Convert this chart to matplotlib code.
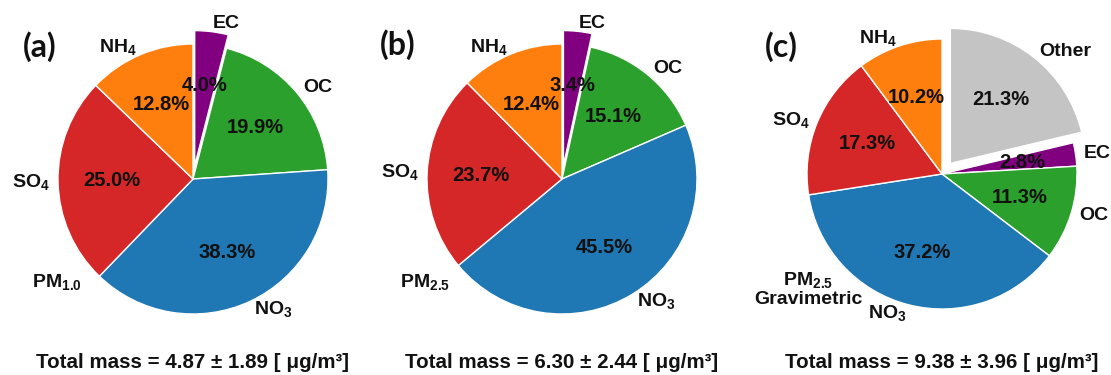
import matplotlib
matplotlib.use("Agg")
import matplotlib.pyplot as plt

plt.rcParams['font.family'] = ['Liberation Sans', 'DejaVu Sans']
plt.rcParams['mathtext.fontset'] = 'custom'
plt.rcParams['mathtext.rm'] = 'Liberation Sans:bold'
plt.rcParams['mathtext.it'] = 'Liberation Sans:bold'
plt.rcParams['mathtext.bf'] = 'Liberation Sans:bold'
plt.rcParams['mathtext.default'] = 'rm'

# Species shares (%) for each size fraction, listed clockwise from 12 o'clock
labels_a = ['EC', 'OC', 'NO$_3$', 'SO$_4$', 'NH$_4$']
values_a = [4.0, 19.9, 38.3, 25.0, 12.8]

labels_b = ['EC', 'OC', 'NO$_3$', 'SO$_4$', 'NH$_4$']
values_b = [3.4, 15.1, 45.5, 23.7, 12.4]

labels_c = ['Other', 'EC', 'OC', 'NO$_3$', 'SO$_4$', 'NH$_4$']
values_c = [21.3, 2.8, 11.3, 37.2, 17.3, 10.2]

colors_ab = ['#800080', '#2ca02c', '#1f77b4', '#d62728', '#ff7f0e']
colors_c = ['#c4c4c4', '#800080', '#2ca02c', '#1f77b4', '#d62728', '#ff7f0e']

# pulled-out wedge, as a fraction of the radius
explode_a = [0.1, 0, 0, 0, 0]
explode_b = [0.1, 0, 0, 0, 0]
explode_c = [0.1, 0, 0, 0, 0, 0]

panel_tags = ['(a)', '(b)', '(c)']
fraction_names = ['PM$_{1.0}$', 'PM$_{2.5}$', 'PM$_{2.5}$\nGravimetric']
total_mass = [(4.87, 1.89), (6.30, 2.44), (9.38, 3.96)]

W, H = 1111, 375
fig = plt.figure(figsize=(W / 100, H / 100), dpi=100)
ax = fig.add_axes([0, 0, 1, 1])

# layout in pixel units (y measured from top)
centers = [(193, 179), (562, 179), (942, 174)]
radius = 135
tag_pos = [(40, 47), (398, 45), (781, 47)]
name_pos = [(57, 282), (425, 282), (808, 289)]

panels = [(labels_a, values_a, colors_ab, explode_a),
          (labels_b, values_b, colors_ab, explode_b),
          (labels_c, values_c, colors_c, explode_c)]

for i, (labs, vals, cols, expl) in enumerate(panels):
    cx, cy = centers[i]
    it = iter(vals)
    wedges, texts, autotexts = ax.pie(
        vals, labels=labs, colors=cols,
        explode=[e * radius for e in expl],
        startangle=90, counterclock=False,
        center=(cx, H - cy), radius=radius,
        autopct=lambda p, it=it: f'{next(it):.1f}%',
        pctdistance=0.6, labeldistance=1.06,
        wedgeprops=dict(edgecolor='white', linewidth=1.0),
        textprops=dict(fontsize=14, fontweight='bold', color='#111111'))
    # align outer labels relative to this pie's own centre
    for t in texts:
        tx_, _ = t.get_position()
        t.set_horizontalalignment('left' if tx_ > cx else 'right')
    for t in autotexts:
        t.set_fontsize(14.5)
    tx, ty = tag_pos[i]
    ax.text(tx, H - ty, panel_tags[i], family=['Lato', 'DejaVu Sans'],
            fontweight='bold', fontsize=23, ha='center', va='center', color='#111111')
    nx, ny = name_pos[i]
    ax.text(nx, H - ny, fraction_names[i], fontsize=14, fontweight='bold',
            ha='center', va='center', linespacing=1.05, color='#111111')
    m, s = total_mass[i]
    ax.text(cx, H - 362, f'Total mass = {m:.2f} \u00b1 {s:.2f} [ \u03bcg/m\u00b3]',
            fontsize=14.8, fontweight='bold', ha='center', va='center', color='#111111')

ax.set_xlim(0, W)
ax.set_ylim(0, H)
ax.set_aspect('equal')
ax.axis('off')

fig.savefig('out.png', dpi=100, facecolor='white')
